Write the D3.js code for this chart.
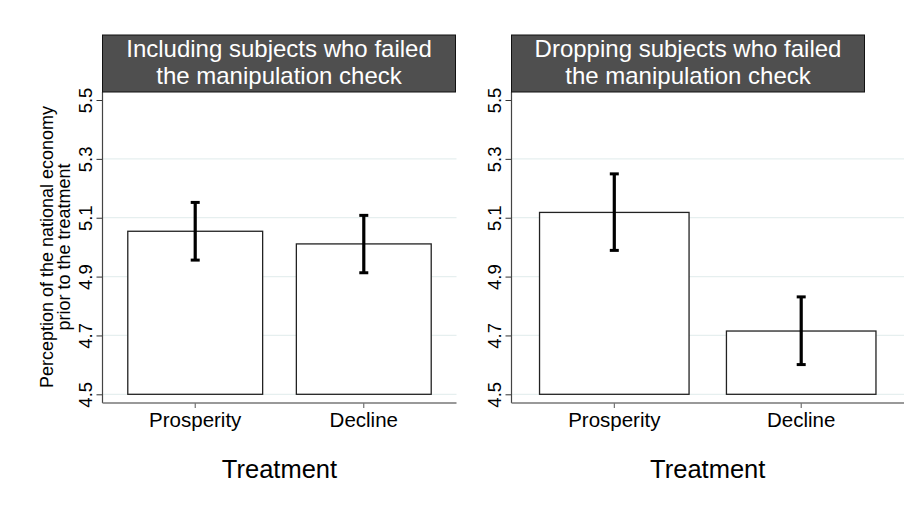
<!DOCTYPE html>
<html>
<head>
<meta charset="utf-8">
<script src="https://cdn.jsdelivr.net/npm/d3@7"></script>
<style>
  body { margin: 0; background: #fff; }
  svg { font-family: "Liberation Sans", Arial, Helvetica, sans-serif; }
</style>
</head>
<body>
<div class="wrapper"></div>
<script>
var categories = ["Prosperity", "Decline"];
var yTicks = [4.5, 4.7, 4.9, 5.1, 5.3, 5.5];
var gridTicks = [4.5, 4.7, 4.9, 5.1, 5.3];

var titleIncluding = ["Including subjects who failed", "the manipulation check"];
var meansIncluding = [5.054, 5.011];
var lowIncluding = [4.956, 4.913];
var highIncluding = [5.152, 5.108];

var titleDropping = ["Dropping subjects who failed", "the manipulation check"];
var meansDropping = [5.118, 4.715];
var lowDropping = [4.989, 4.601];
var highDropping = [5.249, 4.831];

var yTitle = ["Perception of the national economy", "prior to the treatment"];
var xTitle = "Treatment";

var width = 915, height = 508;
var plotTop = 92, plotBottom = 403, stripTop = 35, stripWidth = 353;

var svg = d3.select(".wrapper").append("svg")
  .attr("width", width)
  .attr("height", height);

var y = d3.scaleLinear().domain([4.5, 5.5]).range([394.3, 100]);

var panels = [
  { left: 102.5, width: 354, title: titleIncluding, means: meansIncluding, low: lowIncluding, high: highIncluding },
  { left: 511.5, width: 392.5, title: titleDropping, means: meansDropping, low: lowDropping, high: highDropping }
];

panels.forEach(function(p) {
  var x = d3.scaleBand()
    .domain(categories)
    .range([p.left, p.left + p.width])
    .paddingInner(0.2)
    .paddingOuter(0.15);

  var g = svg.append("g");

  // grid lines
  g.selectAll(".grid")
    .data(gridTicks)
    .enter()
    .append("line")
    .attr("x1", p.left)
    .attr("x2", p.left + p.width)
    .attr("y1", d => y(d))
    .attr("y2", d => y(d))
    .attr("stroke", "#e6efef")
    .attr("stroke-width", 1.2);

  // bars
  var rows = categories.map((c, i) => ({ cat: c, mean: p.means[i], low: p.low[i], high: p.high[i] }));
  g.selectAll(".bar")
    .data(rows)
    .enter()
    .append("rect")
    .attr("x", d => x(d.cat))
    .attr("width", x.bandwidth())
    .attr("y", d => y(d.mean))
    .attr("height", d => y(4.5) - y(d.mean))
    .attr("fill", "#fff")
    .attr("stroke", "#222")
    .attr("stroke-width", 1.3);

  // error bars
  var err = g.selectAll(".err").data(rows).enter().append("g");
  err.append("line")
    .attr("x1", d => x(d.cat) + x.bandwidth() / 2)
    .attr("x2", d => x(d.cat) + x.bandwidth() / 2)
    .attr("y1", d => y(d.low))
    .attr("y2", d => y(d.high))
    .attr("stroke", "#000")
    .attr("stroke-width", 3.2);
  ["low", "high"].forEach(function(k) {
    err.append("line")
      .attr("x1", d => x(d.cat) + x.bandwidth() / 2 - 4.5)
      .attr("x2", d => x(d.cat) + x.bandwidth() / 2 + 4.5)
      .attr("y1", d => y(d[k]))
      .attr("y2", d => y(d[k]))
      .attr("stroke", "#000")
      .attr("stroke-width", 3);
  });

  // y axis
  var yAxisG = g.append("g")
    .attr("transform", `translate(${p.left},0)`)
    .call(d3.axisLeft(y).tickValues(yTicks).tickSize(6).tickFormat(d3.format(".1f")));
  yAxisG.select(".domain").remove();
  yAxisG.selectAll(".tick line").attr("stroke", "#333").attr("stroke-width", 1);
  yAxisG.selectAll(".tick text")
    .attr("transform", "rotate(-90)")
    .attr("x", 0)
    .attr("y", -11)
    .attr("dy", 0)
    .attr("text-anchor", "middle")
    .attr("fill", "#000")
    .style("font-size", "18.5px");
  g.append("line")
    .attr("x1", p.left).attr("x2", p.left)
    .attr("y1", plotTop).attr("y2", plotBottom)
    .attr("stroke", "#444").attr("stroke-width", 1.2);

  // x axis
  var xAxisG = g.append("g")
    .attr("transform", `translate(0,${plotBottom})`)
    .call(d3.axisBottom(x).tickSize(5));
  xAxisG.select(".domain").remove();
  xAxisG.selectAll(".tick line").attr("stroke", "#555");
  xAxisG.selectAll(".tick text")
    .attr("y", 23.7)
    .attr("dy", 0)
    .attr("fill", "#000")
    .style("font-size", "20.5px");
  g.append("line")
    .attr("x1", p.left).attr("x2", p.left + p.width)
    .attr("y1", plotBottom).attr("y2", plotBottom)
    .attr("stroke", "#777").attr("stroke-width", 1.5);

  // strip header
  g.append("rect")
    .attr("x", p.left)
    .attr("y", stripTop)
    .attr("width", stripWidth)
    .attr("height", plotTop - stripTop)
    .attr("fill", "#4f4f4f")
    .attr("stroke", "#111")
    .attr("stroke-width", 1);
  g.selectAll(".strip-text")
    .data(p.title)
    .enter()
    .append("text")
    .attr("x", p.left + stripWidth / 2)
    .attr("y", (d, i) => 56.5 + i * 27)
    .attr("text-anchor", "middle")
    .attr("fill", "#fff")
    .style("font-size", "24px")
    .text(d => d);

  // x title
  g.append("text")
    .attr("x", p.left + p.width / 2)
    .attr("y", 478)
    .attr("text-anchor", "middle")
    .style("font-size", "25.5px")
    .text(xTitle);
});

// y title (left panel only)
svg.selectAll(".ytitle")
  .data(yTitle)
  .enter()
  .append("text")
  .attr("transform", (d, i) => `translate(${52.5 + i * 17.5},247) rotate(-90)`)
  .attr("text-anchor", "middle")
  .style("font-size", "18px")
  .text(d => d);
</script>
</body>
</html>
